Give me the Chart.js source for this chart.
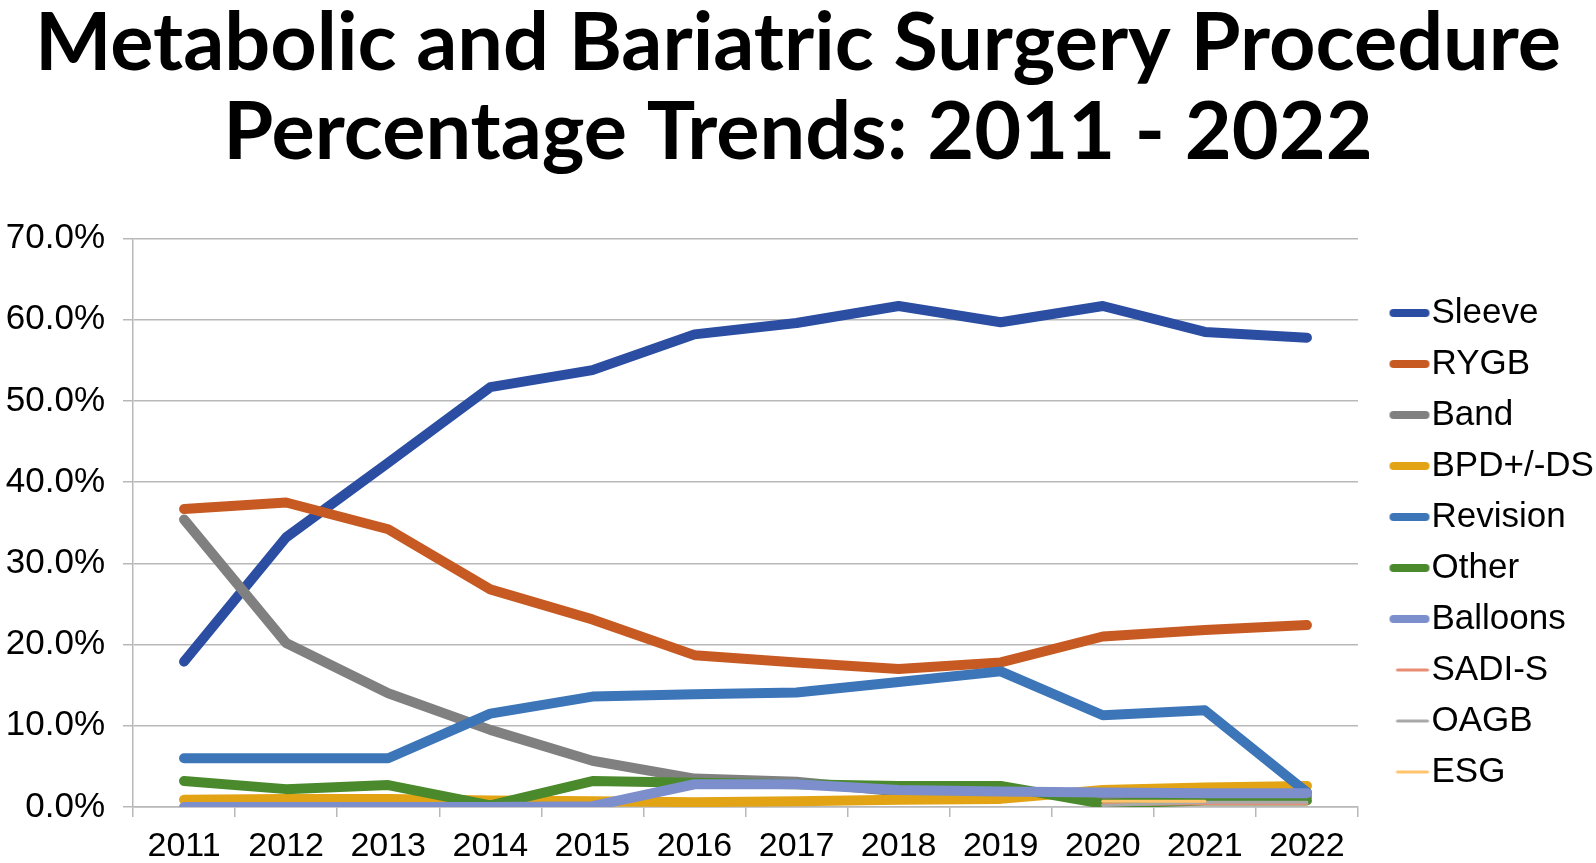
<!DOCTYPE html>
<html>
<head>
<meta charset="utf-8">
<script src="https://cdn.jsdelivr.net/npm/chart.js@4.4.1/dist/chart.umd.min.js"></script>
<style>
  html, body { margin: 0; padding: 0; background: #fff; }
  #wrap { width: 1596px; height: 863px; position: relative; }
</style>
</head>
<body>
<div id="wrap"><canvas id="c" width="1596" height="863"></canvas></div>
<script>
// ---- Data ----
const years = ['2011','2012','2013','2014','2015','2016','2017','2018','2019','2020','2021','2022'];
const titleLines = ['Metabolic and Bariatric Surgery Procedure', 'Percentage Trends: 2011 - 2022'];
const yTicks = [0, 10, 20, 30, 40, 50, 60, 70];

const sleeve   = [17.9, 33.2, 42.4, 51.7, 53.8, 58.2, 59.6, 61.7, 59.7, 61.7, 58.5, 57.8];
const rygb     = [36.7, 37.5, 34.2, 26.8, 23.1, 18.7, 17.8, 17.0, 17.8, 21.0, 21.8, 22.4];
const band     = [35.4, 20.2, 14.0,  9.5,  5.7,  3.5,  3.1,  1.9,  1.8,  1.5,  1.3,  1.3];
const bpd      = [ 0.9,  1.0,  1.0,  0.8,  0.7,  0.6,  0.7,  0.9,  1.0,  2.1,  2.4,  2.6];
const revision = [ 6.0,  6.0,  6.0, 11.5, 13.6, 13.9, 14.1, 15.4, 16.7, 11.3, 11.9,  1.8];
const other    = [ 3.2,  2.2,  2.7,  0.2,  3.2,  3.0,  2.8,  2.6,  2.6,  0.4,  0.8,  0.8];
const balloons = [ 0.0,  0.0,  0.0,  0.0,  0.1,  2.8,  2.8,  2.1,  1.9,  1.8,  1.7,  1.7];
const sadis    = [null, null, null, null, null, null, null, null, null,  0.3,  0.4,  0.4];
const oagb     = [null, null, null, null, null, null, null, null, null,  0.2,  0.6,  0.6];
const esg      = [null, null, null, null, null, null, null, null, null,  0.7,  0.7, null];

const seriesNames = ['Sleeve','RYGB','Band','BPD+/-DS','Revision','Other','Balloons','SADI-S','OAGB','ESG'];
const seriesData  = [sleeve, rygb, band, bpd, revision, other, balloons, sadis, oagb, esg];
const seriesColors = ['#2B4DA2','#C75A22','#808080','#E2A314','#3C75B8','#4B8A2C','#7C8ECC','#E88D74','#A9A9A9','#FFC46C'];
const seriesWidths = [10, 10, 10, 10, 10, 10, 10, 3, 3, 3];

const LEG_FONT = 35;
const LEG_BOX = 40;

// legend marker: a short line drawn so it touches the label text
function legendMarker(color, width) {
  const half = LEG_FONT / 2;
  const W = Math.round(LEG_BOX + 2 * half);
  const H = 20;
  const cv = document.createElement('canvas');
  cv.width = W; cv.height = H;
  const g = cv.getContext('2d');
  g.strokeStyle = color;
  g.lineWidth = width > 5 ? 8 : 3;
  g.lineCap = 'round';
  const x1 = W - (width > 5 ? 6 : 4);
  const x0 = width > 5 ? x1 - 32 : x1 - 30;
  g.beginPath();
  g.moveTo(x0, H / 2);
  g.lineTo(x1, H / 2);
  g.stroke();
  return cv;
}

const datasets = seriesNames.map((name, i) => ({
  label: name,
  data: seriesData[i],
  borderColor: seriesColors[i],
  backgroundColor: seriesColors[i],
  borderWidth: seriesWidths[i],
  borderCapStyle: 'round',
  borderJoinStyle: 'round',
  pointRadius: 0,
  pointHoverRadius: 0,
  tension: 0,
  fill: false,
  spanGaps: false,
  order: -i
}));

new Chart(document.getElementById('c'), {
  type: 'line',
  data: { labels: years, datasets },
  options: {
    responsive: false,
    animation: false,
    devicePixelRatio: 1,
    layout: { padding: { left: 0, right: 0, top: 0, bottom: 0 } },
    plugins: {
      title: {
        display: true,
        text: titleLines,
        color: '#000',
        font: { family: 'Lato', weight: 'bold', size: 81, lineHeight: 1.09 },
        padding: { top: 0, bottom: 62 }
      },
      legend: {
        position: 'right',
        align: 'center',
        fullSize: true,
        maxWidth: 238,
        title: { display: true, text: ' ', font: { size: 10, lineHeight: 1.2 }, padding: { top: 210, bottom: 0 } },
        labels: {
          color: '#000',
          font: { family: 'Liberation Sans', size: LEG_FONT },
          usePointStyle: true,
          pointStyleWidth: LEG_BOX,
          boxHeight: LEG_FONT,
          padding: 16,
          generateLabels: (chart) => {
            const items = Chart.defaults.plugins.legend.labels.generateLabels(chart);
            items.forEach(it => {
              it.pointStyle = legendMarker(seriesColors[it.datasetIndex], seriesWidths[it.datasetIndex]);
            });
            return items.sort((a, b) => a.datasetIndex - b.datasetIndex);
          }
        }
      },
      tooltip: { enabled: false }
    },
    scales: {
      x: {
        offset: true,
        afterFit: (axis) => { axis.height = 56; },
        grid: {
          display: true,
          offset: true,
          drawOnChartArea: false,
          drawTicks: true,
          tickLength: 10,
          color: '#B8B8B8',
          lineWidth: 1.5
        },
        border: { display: true, color: '#B8B8B8', width: 1.5 },
        ticks: {
          color: '#000',
          font: { family: 'Liberation Sans', size: 34 },
          padding: 9,
          maxRotation: 0,
          autoSkip: false
        }
      },
      y: {
        min: 0,
        max: 70,
        afterBuildTicks: (axis) => { axis.ticks = yTicks.map(v => ({ value: v })); },
        afterFit: (axis) => { axis.width = 133; },
        grid: {
          color: '#B8B8B8',
          lineWidth: 1.5,
          tickLength: 10
        },
        border: { display: true, color: '#B8B8B8', width: 1.5 },
        ticks: {
          color: '#000',
          font: { family: 'Liberation Sans', size: 35 },
          padding: 18,
          callback: (v) => Number(v).toFixed(1) + '%'
        }
      }
    }
  }
});
</script>
</body>
</html>
